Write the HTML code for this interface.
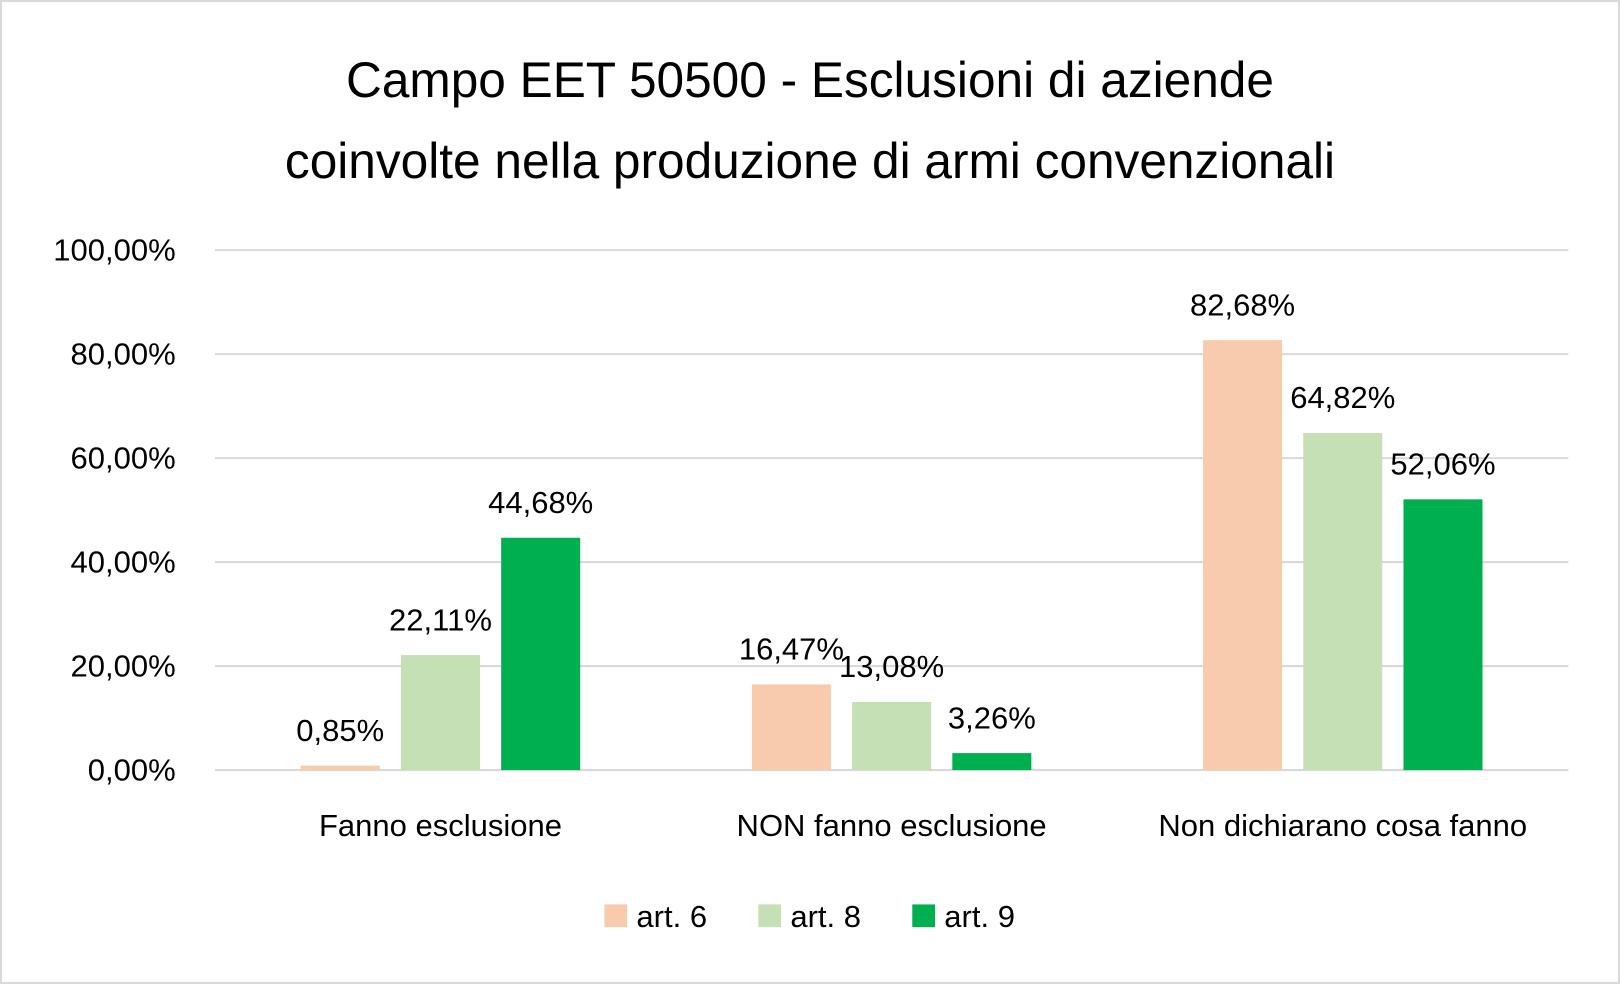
<!DOCTYPE html>
<html><head><meta charset="utf-8"><style>
html,body{margin:0;padding:0;background:#fff}
svg{display:block;font-family:"Liberation Sans","DejaVu Sans",sans-serif}
</style></head><body>
<svg width="1620" height="984" viewBox="0 0 1568 952" preserveAspectRatio="none" xmlns="http://www.w3.org/2000/svg">
<rect x="1" y="1" width="1566" height="950" fill="#fff" stroke="#d9d9d9" stroke-width="2"/>
<text text-anchor="middle" font-size="48" fill="#000"><tspan x="784" y="94">Campo EET 50500 - Esclusioni di aziende</tspan><tspan x="784" y="172">coinvolte nella produzione di armi convenzionali</tspan></text>
<g id="grid"></g><g id="bars"></g><g id="labels"></g>
<g font-size="30">
<rect x="585" y="875" width="22" height="22" fill="#f8cbad"/>
<text x="616" y="897">art. 6</text>
<rect x="734" y="875" width="22" height="22" fill="#c5e0b4"/>
<text x="765" y="897">art. 8</text>
<rect x="883" y="875" width="22" height="22" fill="#00b050"/>
<text x="914" y="897">art. 9</text>
</g>
</svg>
<script>
const categories=["Fanno esclusione","NON fanno esclusione","Non dichiarano cosa fanno"];
const art6=[0.85,16.47,82.68];
const art8=[22.11,13.08,64.82];
const art9=[44.68,3.26,52.06];
const ticks=[0,20,40,60,80,100];
const seriesNames=["art6","art8","art9"];
const colors=["#f8cbad","#c5e0b4","#00b050"];
const NS="http://www.w3.org/2000/svg";
const x0=208,x1=1518,yBase=745,yTop=242;
const y=v=>yBase-(v/100)*(yBase-yTop);
const gw=(x1-x0)/categories.length;
const fmt=v=>v.toFixed(2).replace('.',',')+'%';
function mk(tag,attrs,parent,txt){const e=document.createElementNS(NS,tag);for(const k in attrs)e.setAttribute(k,attrs[k]);if(txt!==undefined)e.textContent=txt;parent.appendChild(e);return e;}
const grid=document.getElementById('grid'),bars=document.getElementById('bars'),labels=document.getElementById('labels');
ticks.forEach(t=>{
 const l=mk('line',{x1:x0,x2:x1,y1:y(t),y2:y(t),stroke:'#d9d9d9','stroke-width':2},grid);
 
 
 const tx=mk('text',{x:170,y:y(t)+10,'text-anchor':'end','font-size':30,fill:'#000'},grid,fmt(t));
 
 
});
const series=[art6,art8,art9];
const bw=76.5,step=97;
categories.forEach((c,i)=>{
 const cx=x0+gw*(i+0.5);
 series.forEach((s,j)=>{
  const bx=cx+(j-1)*step-bw/2;
  const r=mk('rect',{x:bx,y:y(s[i]),width:bw,height:yBase-y(s[i]),fill:colors[j]},bars);
  
  
  const t=mk('text',{x:bx+bw/2,y:y(s[i])-24,'text-anchor':'middle','font-size':30,fill:'#000'},labels,fmt(s[i]));
  
  
 });
 const ct=mk('text',{x:cx,y:809,'text-anchor':'middle','font-size':30,fill:'#000'},labels,c);
 
 
});
</script>
</body></html>
